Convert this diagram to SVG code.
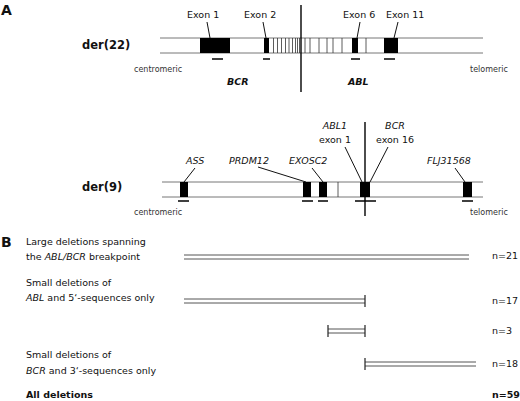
<svg xmlns="http://www.w3.org/2000/svg" width="520" height="401" viewBox="0 0 520 401">
<style>
text{font-family:"DejaVu Sans",Verdana,sans-serif;fill:#111}
.lbl{font-size:9.5px}
.it{font-style:italic}
.sm{font-size:8px;fill:#333}
.der{font-size:11.5px;font-weight:bold}
.big{font-size:14px;font-weight:bold}
.chr{stroke:#777;stroke-width:1;fill:none}
.ex{fill:#000}
.ul{stroke:#000;stroke-width:1.5}
.hl{stroke:#333;stroke-width:0.8}
.ld{stroke:#111;stroke-width:1;fill:none}
.bp{stroke:#000;stroke-width:1.4}
.bar{stroke:#555;stroke-width:1;fill:none}
.tk{stroke:#222;stroke-width:1.2}
</style>
<rect width="520" height="401" fill="#fff"/>
<text class="big" x="1" y="15">A</text>
<text class="big" x="1" y="247">B</text>

<g id="der22">
<text class="der" x="82" y="49">der(22)</text>
<line class="chr" x1="160" y1="38" x2="483" y2="38"/>
<line class="chr" x1="160" y1="53" x2="483" y2="53"/>
<g class="hl">
<line x1="273.5" y1="38" x2="273.5" y2="53"/><line x1="277.5" y1="38" x2="277.5" y2="53"/>
<line x1="281.5" y1="38" x2="281.5" y2="53"/><line x1="285.5" y1="38" x2="285.5" y2="53"/>
<line x1="289" y1="38" x2="289" y2="53"/><line x1="292.5" y1="38" x2="292.5" y2="53"/>
<line x1="295.5" y1="38" x2="295.5" y2="53"/><line x1="297.5" y1="38" x2="297.5" y2="53"/>
<line x1="299.5" y1="38" x2="299.5" y2="53"/><line x1="305" y1="38" x2="305" y2="53"/>
<line x1="310" y1="38" x2="310" y2="53"/><line x1="319" y1="38" x2="319" y2="53"/>
<line x1="327" y1="38" x2="327" y2="53"/><line x1="333" y1="38" x2="333" y2="53"/>
<line x1="342" y1="38" x2="342" y2="53"/><line x1="366" y1="38" x2="366" y2="53"/>
</g>
<rect class="ex" x="200" y="38" width="30" height="15"/>
<rect class="ex" x="264" y="38" width="5" height="15"/>
<rect class="ex" x="352" y="38" width="6" height="15"/>
<rect class="ex" x="384" y="38" width="14" height="15"/>
<line class="ul" x1="212" y1="59" x2="223" y2="59"/>
<line class="ul" x1="263" y1="59" x2="270" y2="59"/>
<line class="ul" x1="351" y1="59" x2="360" y2="59"/>
<line class="ul" x1="384" y1="59" x2="395" y2="59"/>
<text class="lbl" x="187" y="18">Exon 1</text>
<text class="lbl" x="244" y="18">Exon 2</text>
<text class="lbl" x="343" y="18">Exon 6</text>
<text class="lbl" x="386" y="18">Exon 11</text>
<line class="ld" x1="207" y1="22" x2="210" y2="38"/>
<line class="ld" x1="263" y1="22" x2="266" y2="38"/>
<line class="ld" x1="360" y1="22" x2="357" y2="38"/>
<line class="ld" x1="398" y1="22" x2="394" y2="38"/>
<line class="bp" x1="301" y1="5" x2="301" y2="92"/>
<text class="sm" x="134" y="72">centromeric</text>
<text class="sm" x="470" y="72">telomeric</text>
<text class="lbl it" x="227" y="85" font-weight="bold">BCR</text>
<text class="lbl it" x="348" y="85" font-weight="bold">ABL</text>
</g>

<g id="der9">
<text class="der" x="82" y="191">der(9)</text>
<line class="chr" x1="162" y1="182" x2="483" y2="182"/>
<line class="chr" x1="162" y1="197" x2="483" y2="197"/>
<line class="hl" x1="338" y1="182" x2="338" y2="197"/>
<rect class="ex" x="180" y="182" width="8" height="15"/>
<rect class="ex" x="303" y="182" width="8" height="15"/>
<rect class="ex" x="319" y="182" width="8" height="15"/>
<rect class="ex" x="360" y="182" width="10" height="15"/>
<rect class="ex" x="463" y="182" width="9" height="15"/>
<line class="ul" x1="178" y1="201" x2="189" y2="201"/>
<line class="ul" x1="302" y1="201" x2="313" y2="201"/>
<line class="ul" x1="318" y1="201" x2="328" y2="201"/>
<line class="ul" x1="355" y1="201" x2="376" y2="201"/>
<line class="ul" x1="462" y1="201" x2="473" y2="201"/>
<text class="lbl it" x="186" y="164">ASS</text>
<text class="lbl it" x="229" y="164">PRDM12</text>
<text class="lbl it" x="289" y="164">EXOSC2</text>
<text class="lbl it" x="427" y="164">FLJ31568</text>
<text class="lbl it" x="335" y="129" text-anchor="middle">ABL1</text>
<text class="lbl" x="335" y="143" text-anchor="middle">exon 1</text>
<text class="lbl it" x="395" y="129" text-anchor="middle">BCR</text>
<text class="lbl" x="395" y="143" text-anchor="middle">exon 16</text>
<line class="ld" x1="195" y1="168" x2="184" y2="182"/>
<line class="ld" x1="258" y1="167" x2="306" y2="182"/>
<line class="ld" x1="312" y1="168" x2="323" y2="182"/>
<line class="ld" x1="345" y1="147" x2="362" y2="182"/>
<line class="ld" x1="388" y1="147" x2="370" y2="182"/>
<line class="ld" x1="455" y1="168" x2="465" y2="182"/>
<line class="bp" x1="365" y1="122" x2="365" y2="216"/>
<text class="sm" x="134" y="215">centromeric</text>
<text class="sm" x="470" y="215">telomeric</text>
</g>

<g id="deletions">
<text class="lbl" x="26" y="245">Large deletions spanning</text>
<text class="lbl" x="26" y="260">the <tspan class="it">ABL/BCR</tspan> breakpoint</text>
<text class="lbl" x="26" y="286">Small deletions of</text>
<text class="lbl" x="26" y="301"><tspan class="it">ABL</tspan> and 5‘-sequences only</text>
<text class="lbl" x="26" y="358">Small deletions of</text>
<text class="lbl" x="26" y="374"><tspan class="it">BCR</tspan> and 3‘-sequences only</text>
<text class="lbl" x="26" y="398" font-weight="bold">All deletions</text>
<text class="lbl" x="492" y="259">n=21</text>
<text class="lbl" x="492" y="304">n=17</text>
<text class="lbl" x="492" y="334">n=3</text>
<text class="lbl" x="492" y="367">n=18</text>
<text class="lbl" x="492" y="398" font-weight="bold">n=59</text>
</g>

<g id="connectors">
<line class="bar" x1="184" y1="255" x2="469" y2="255"/>
<line class="bar" x1="184" y1="259" x2="469" y2="259"/>
<line class="bar" x1="184" y1="299" x2="365" y2="299"/>
<line class="bar" x1="184" y1="303" x2="365" y2="303"/>
<line class="tk" x1="365" y1="295" x2="365" y2="307"/>
<line class="bar" x1="328" y1="329" x2="365" y2="329"/>
<line class="bar" x1="328" y1="333" x2="365" y2="333"/>
<line class="tk" x1="328" y1="325" x2="328" y2="337"/>
<line class="tk" x1="365" y1="325" x2="365" y2="337"/>
<line class="bar" x1="365" y1="362" x2="476" y2="362"/>
<line class="bar" x1="365" y1="366" x2="476" y2="366"/>
<line class="tk" x1="365" y1="358" x2="365" y2="370"/>
</g>
</svg>
